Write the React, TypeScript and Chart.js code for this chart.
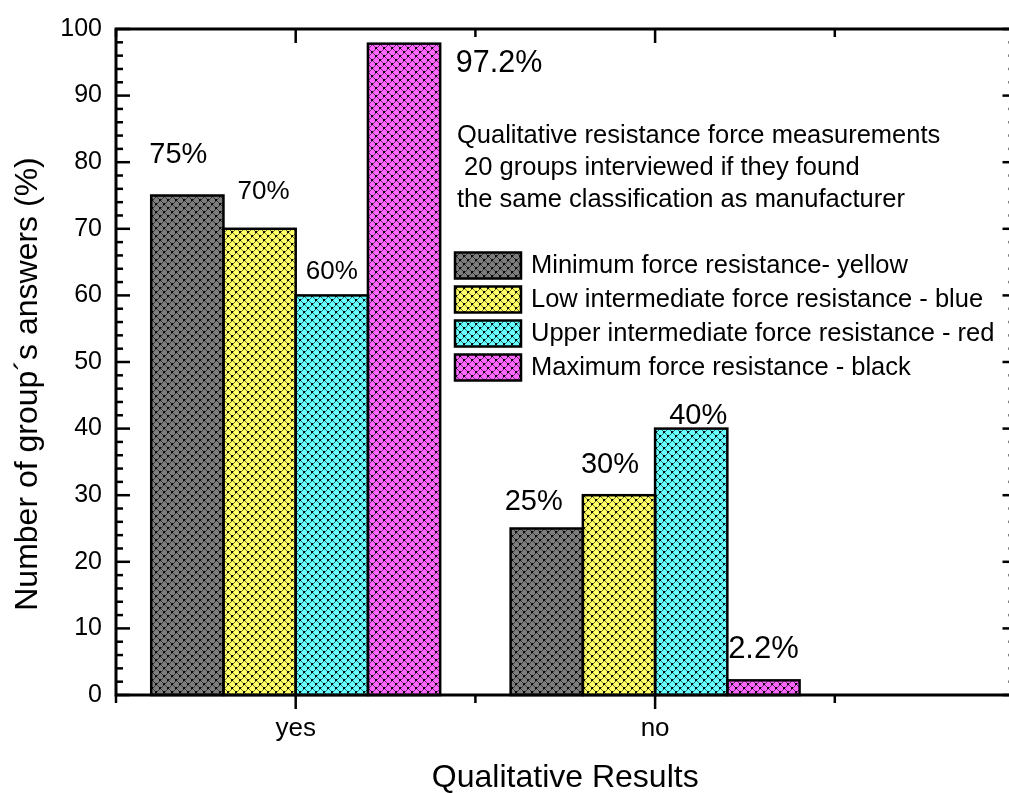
import React, { useEffect, useRef } from 'react';
import { Chart, registerables } from 'chart.js';

Chart.register(...registerables);

// ---------- data ----------
const categories = ['yes', 'no'];
const seriesNames = [
  'Minimum force resistance- yellow',
  'Low intermediate force resistance - blue',
  'Upper intermediate force resistance - red',
  'Maximum force resistance - black',
];
const minimumValues = [75, 25];
const lowIntermediateValues = [70, 30];
const upperIntermediateValues = [60, 40];
const maximumValues = [97.8, 2.2];
const minimumLabels = ['75%', '25%'];
const lowIntermediateLabels = ['70%', '30%'];
const upperIntermediateLabels = ['60%', '40%'];
const maximumLabels = ['97.2%', '2.2%'];
const yTickMin = 0;
const yTickMax = 100;
const yTickStep = 10;
const noteLines = [
  'Qualitative resistance force measurements',
  ' 20 groups interviewed if they found',
  'the same classification as manufacturer',
];
const xTitle = 'Qualitative Results';
const yTitle = 'Number of group\u00B4s answers (%)';

const seriesValues = [minimumValues, lowIntermediateValues, upperIntermediateValues, maximumValues];
const seriesLabels = [minimumLabels, lowIntermediateLabels, upperIntermediateLabels, maximumLabels];

// ---------- styles ----------
const FONT = "'Liberation Sans', Arial, sans-serif";
const SERIES_STYLE = [
  { base: '#7c7c7c', line: '#000000' },
  { base: '#ffff66', line: '#000000' },
  { base: '#66ffff', line: '#000000' },
  { base: '#ff66ff', line: '#000000' },
];
// label placement relative to bar top-centre: [dx, dy, fontSize]
const LABEL_LAYOUT = [
  [[-9, -33, 29], [-13, -19, 29]],
  [[4, -30, 26], [-9, -22, 29]],
  [[0, -16, 26], [7, -5, 29]],
  [[95, 28, 30.5], [0, -22, 31]],
];

function makePattern(base: string, line: string): CanvasPattern | string {
  const s = 8;
  const c = document.createElement('canvas');
  c.width = s;
  c.height = s;
  const g = c.getContext('2d');
  if (!g) return base;
  g.fillStyle = base;
  g.fillRect(0, 0, s, s);
  g.fillStyle = line;
  g.globalAlpha = 0.55;
  for (let i = 0; i < s; i++) {
    g.fillRect(i, i, 1, 1);
    g.fillRect((s - i) % s, i, 1, 1);
  }
  g.globalAlpha = 0.95;
  // dots at lattice intersections
  g.fillRect(3, 3, 2, 2);
  g.fillRect(0, 0, 1, 1);
  g.fillRect(7, 0, 1, 1);
  g.fillRect(0, 7, 1, 1);
  g.fillRect(7, 7, 1, 1);
  g.globalAlpha = 1;
  const p = g.createPattern(c, 'repeat');
  return p || base;
}

const barBorderPlugin = {
  id: 'barBorder',
  afterDatasetsDraw(chart: any) {
    const { ctx } = chart;
    ctx.save();
    ctx.strokeStyle = '#000';
    ctx.lineWidth = 2.5;
    chart.data.datasets.forEach((_: any, di: number) => {
      const meta = chart.getDatasetMeta(di);
      meta.data.forEach((el: any) => {
        const left = el.x - el.width / 2;
        const top = Math.min(el.y, el.base);
        const h = Math.abs(el.base - el.y);
        ctx.strokeRect(left, top, el.width, h);
      });
    });
    ctx.restore();
  },
};

const decorPlugin = {
  id: 'decor',
  afterDraw(chart: any) {
    const { ctx, chartArea: a, scales } = chart;
    const x = scales.x;
    const y = scales.y;
    ctx.save();
    ctx.strokeStyle = '#000';
    ctx.lineCap = 'butt';
    const line = (x1: number, y1: number, x2: number, y2: number) => {
      ctx.beginPath();
      ctx.moveTo(x1, y1);
      ctx.lineTo(x2, y2);
      ctx.stroke();
    };
    ctx.lineWidth = 2.5;
    // y ticks (minor every 2)
    for (let k = 0; k <= (yTickMax - yTickMin) / 2; k++) {
      const v = yTickMin + k * 2;
      const py = y.getPixelForValue(v);
      const major = v % yTickStep === 0;
      line(a.left, py, a.left + (major ? 14 : 7), py);
      line(a.right, py, a.right - (major ? 12 : 6), py);
    }
    // x ticks (minor every 0.5)
    for (let k = 1; k <= 6; k++) {
      const v = k * 0.5;
      if (v < x.min || v > x.max) continue;
      const px = x.getPixelForValue(v);
      const major = k % 2 === 0;
      line(px, a.bottom, px, a.bottom + (major ? 14 : 8));
      line(px, a.top, px, a.top + (major ? 14 : 8));
    }
    // frame
    ctx.lineWidth = 3;
    ctx.strokeRect(a.left, a.top, a.right - a.left, a.bottom - a.top);

    // data labels
    ctx.fillStyle = '#000';
    ctx.textAlign = 'center';
    ctx.textBaseline = 'alphabetic';
    chart.data.datasets.forEach((_: any, di: number) => {
      const meta = chart.getDatasetMeta(di);
      meta.data.forEach((el: any, i: number) => {
        const [dx, dy, size] = LABEL_LAYOUT[di][i];
        ctx.font = `${size}px ${FONT}`;
        ctx.fillText(seriesLabels[di][i], el.x + dx, el.y + dy);
      });
    });

    // note text
    ctx.textAlign = 'left';
    ctx.font = `25.5px ${FONT}`;
    noteLines.forEach((t, i) => ctx.fillText(t, 457, 143 + i * 32));

    // legend
    chart.data.datasets.forEach((ds: any, i: number) => {
      const top = 252.5 + i * 34;
      ctx.fillStyle = ds.backgroundColor;
      ctx.fillRect(455, top, 66, 26);
      ctx.lineWidth = 2.5;
      ctx.strokeRect(455, top, 66, 26);
      ctx.fillStyle = '#000';
      ctx.font = `25.5px ${FONT}`;
      ctx.fillText(ds.label, 531, 273 + i * 34);
    });

    // axis titles
    ctx.font = `32px ${FONT}`;
    ctx.textAlign = 'center';
    ctx.fillText(xTitle, (a.left + a.right) / 2, 787);
    ctx.save();
    ctx.translate(37, 384);
    ctx.rotate(-Math.PI / 2);
    ctx.fillText(yTitle, 0, 0);
    ctx.restore();

    ctx.restore();
  },
};

export default function App() {
  const ref = useRef<HTMLCanvasElement | null>(null);

  useEffect(() => {
    const canvas = ref.current;
    if (!canvas) return;
    const patterns = SERIES_STYLE.map((s) => makePattern(s.base, s.line));
    const datasets = seriesNames.map((name, i) => ({
      label: name,
      data: categories.map((_, j) => ({ x: j + 1, y: seriesValues[i][j] })),
      backgroundColor: patterns[i],
      borderWidth: 0,
      categoryPercentage: 0.804,
      barPercentage: 1,
    }));
    const chart = new Chart(canvas, {
      type: 'bar',
      data: { datasets } as any,
      plugins: [barBorderPlugin, decorPlugin],
      options: {
        responsive: false,
        animation: false,
        devicePixelRatio: 1,
        layout: { padding: { left: 0, top: 25, right: 2.5, bottom: 0 } },
        plugins: { legend: { display: false }, tooltip: { enabled: false } },
        scales: {
          x: {
            type: 'linear',
            min: 0.5,
            max: 3,
            offset: false,
            grid: { display: false, drawTicks: false },
            border: { display: false },
            afterBuildTicks: (scale: any) => {
              scale.ticks = categories.map((_, i) => ({ value: i + 1 }));
            },
            afterFit: (scale: any) => {
              scale.height = 98;
            },
            ticks: {
              autoSkip: false,
              maxRotation: 0,
              padding: 18,
              color: '#000',
              font: { family: FONT, size: 26 },
              callback: (v: any) => categories[Number(v) - 1] ?? '',
            },
          },
          y: {
            min: yTickMin,
            max: yTickMax,
            grid: { display: false, drawTicks: false },
            border: { display: false },
            afterFit: (scale: any) => {
              scale.width = 116;
            },
            ticks: {
              stepSize: yTickStep,
              padding: 14,
              color: '#000',
              font: { family: FONT, size: 25 },
            },
          },
        },
      } as any,
    });
    return () => chart.destroy();
  }, []);

  return (
    <div
      style={{
        position: 'fixed',
        left: 0,
        top: 0,
        width: 1009,
        height: 793,
        overflow: 'hidden',
        background: '#fff',
      }}
    >
      <canvas ref={ref} width={1017} height={793} style={{ display: 'block' }} />
    </div>
  );
}
